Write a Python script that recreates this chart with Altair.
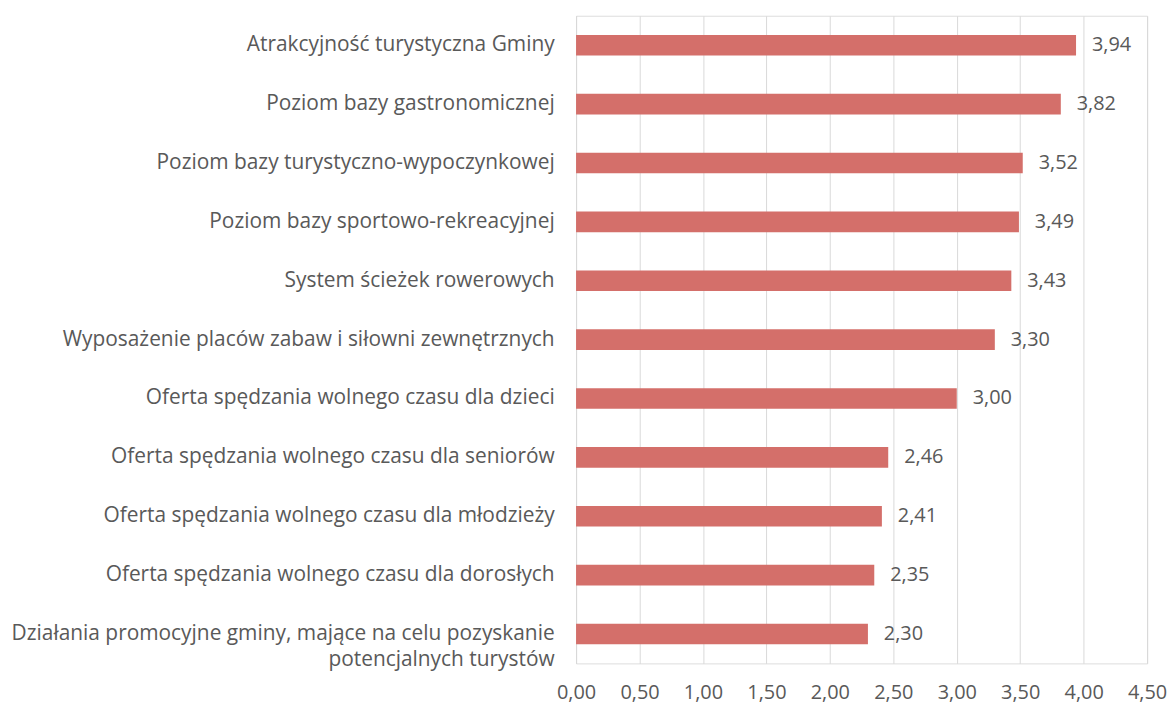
import altair as alt
import pandas as pd

categories = [
    "Atrakcyjność turystyczna Gminy ",
    "Poziom bazy gastronomicznej",
    "Poziom bazy turystyczno-wypoczynkowej",
    "Poziom bazy sportowo-rekreacyjnej ",
    "System ścieżek rowerowych",
    "Wyposażenie placów zabaw i siłowni zewnętrznych ",
    "Oferta spędzania wolnego czasu dla dzieci",
    "Oferta spędzania wolnego czasu  dla seniorów",
    "Oferta spędzania wolnego czasu dla młodzieży",
    "Oferta spędzania wolnego czasu dla dorosłych",
    "Działania promocyjne gminy, mające na celu pozyskanie\npotencjalnych turystów",
]
values = [3.94, 3.82, 3.52, 3.49, 3.43, 3.30, 3.00, 2.46, 2.41, 2.35, 2.30]
x_ticks = [0, 0.5, 1, 1.5, 2, 2.5, 3, 3.5, 4, 4.5]

df = pd.DataFrame({"cat": categories, "value": values})

FONT = "Open Sans"
TXT = "#595959"

y_enc = alt.Y(
    "cat:N",
    sort=categories,
    title=None,
    scale=alt.Scale(paddingInner=0.65, paddingOuter=0.325),
    axis=alt.Axis(
        labelExpr="split(datum.label, '\\n')",
        labelPadding=22,
        ticks=False,
        domain=True,
        domainColor="#d9d9d9",
        labelFont=FONT,
        labelFontSize=21,
        labelColor=TXT,
        labelLimit=800,
        labelLineHeight=26,
    ),
)

x_enc = alt.X(
    "value:Q",
    title=None,
    scale=alt.Scale(domain=[0, 4.5], nice=False),
    axis=alt.Axis(
        values=x_ticks,
        labelExpr="replace(format(datum.value, '.2f'), '.', ',')",
        labelFlush=False,
        ticks=False,
        domain=False,
        grid=True,
        gridColor="#d9d9d9",
        gridWidth=1,
        labelPadding=19,
        labelFont=FONT,
        labelFontSize=20,
        labelColor=TXT,
    ),
)

base = alt.Chart(df).encode(y=y_enc, x=x_enc)

bars = base.mark_bar(color="#D46F6A")

labels = base.transform_calculate(
    lab="replace(format(datum.value, '.2f'), '.', ',')"
).mark_text(
    align="left", baseline="middle", dx=16, font=FONT, fontSize=20, color=TXT
).encode(text="lab:N")

chart = (
    (bars + labels)
    .properties(width=574, height=651, padding={"left": 2, "top": 6, "right": 0, "bottom": 0})
    .configure_view(stroke=None)
    .configure(background="white")
)

chart.save("out.html", embed_options={"renderer": "svg", "actions": False})
